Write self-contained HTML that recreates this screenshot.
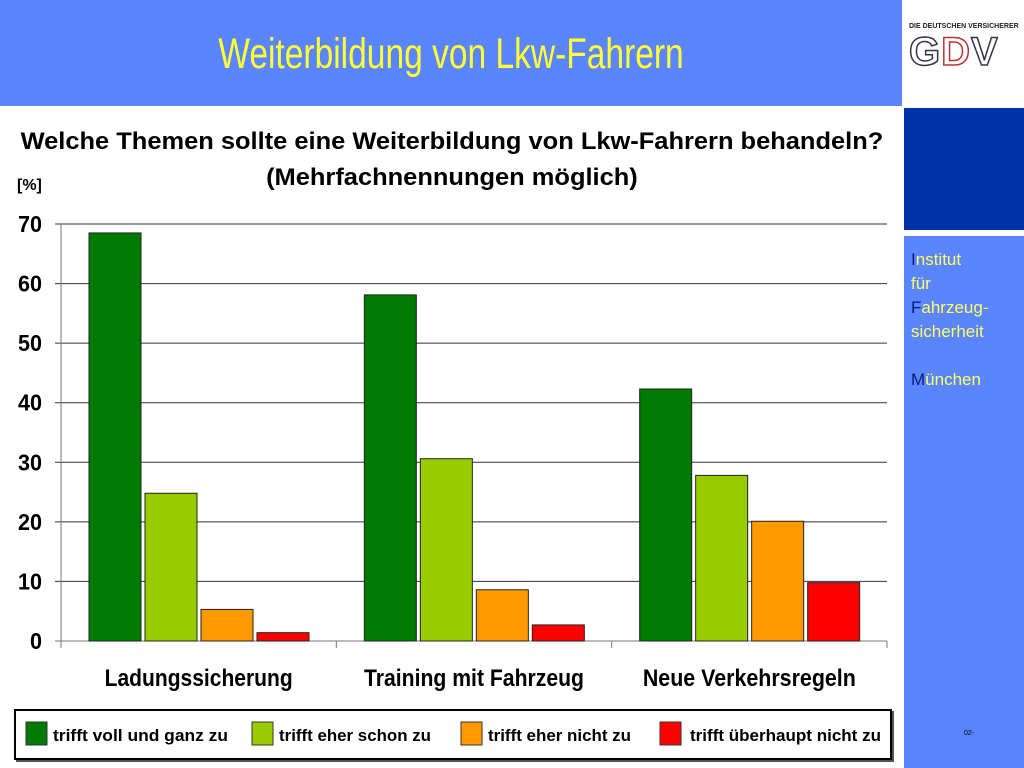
<!DOCTYPE html>
<html><head><meta charset="utf-8"><style>
body{margin:0;width:1024px;height:768px;position:relative;background:#fff;overflow:hidden;font-family:"Liberation Sans",sans-serif}
.abs{position:absolute}
</style></head><body>
<div class="abs" style="left:0;top:0;width:902px;height:106px;background:#5b85fc"></div>
<div class="abs" style="left:0;top:30px;width:902px;text-align:center;color:#ffff33;font-size:43px;transform:scaleX(0.78);transform-origin:451px 0">Weiterbildung von Lkw-Fahrern</div>
<div class="abs" style="left:904px;top:0;width:120px;height:106px;background:#fff">
<div style="position:absolute;left:5px;top:23px;font-size:7px;font-weight:bold;color:#222;white-space:nowrap">DIE DEUTSCHEN VERSICHERER</div>
<div style="position:absolute;left:5px;top:30px;font-size:40px;font-weight:bold;letter-spacing:1px;color:#fff;-webkit-text-stroke:1.5px #334"><span>G</span><span style="-webkit-text-stroke:1.5px #b33">D</span><span>V</span></div>
</div>
<div class="abs" style="left:904px;top:108px;width:120px;height:122px;background:#0033a8"></div>
<div class="abs" style="left:904px;top:236px;width:120px;height:532px;background:#5b85fc"></div>
<div class="abs" style="left:911px;top:248px;font-size:17px;line-height:24px;color:#ffff66"><span style="color:#001a80">I</span>nstitut<br>für<br><span style="color:#001a80">F</span>ahrzeug-<br>sicherheit<br><br><span style="color:#001a80">M</span>ünchen</div>
<div class="abs" style="left:964px;top:730px;font-size:7px;color:#000">02-</div>
<div class="abs" style="left:0;top:124px;width:904px;text-align:center;font-weight:bold;font-size:24px;line-height:36px;color:#000;transform:scaleX(1.06);transform-origin:453px 0">Welche Themen sollte eine Weiterbildung von Lkw-Fahrern behandeln?<br>(Mehrfachnennungen möglich)</div>
<div class="abs" style="left:17px;top:177px;font-weight:bold;font-size:16px">[%]</div>
<svg class="abs" style="left:0;top:0" width="904" height="768" id="chart"></svg>
<div class="abs" style="left:14px;top:709px;width:874px;height:47px;border:2px solid #000;box-shadow:2px 2px 0 #555"></div>
<script>
const categories=["Ladungssicherung","Training mit Fahrzeug","Neue Verkehrsregeln"];
const seriesNames=["trifft  voll und ganz zu","trifft eher schon zu","trifft eher nicht zu","trifft überhaupt nicht zu"];
const s1=[68.5,58.1,42.3];
const s2=[24.8,30.6,27.8];
const s3=[5.3,8.6,20.1];
const s4=[1.4,2.7,9.8];
const yTicks=[0,10,20,30,40,50,60,70];
const colors=["#007a00","#99cc00","#ff9900","#ff0000"];
const series=[s1,s2,s3,s4];
const NS="http://www.w3.org/2000/svg";
const svg=document.getElementById('chart');
const x0=61,x1=887,y0=641,yTop=224;
const y=v=>y0-(v/70)*(y0-yTop);
const cw=(x1-x0)/categories.length;
const catW=[188,220,213];
const legW=[175,152,143,191];
function el(t,a){const e=document.createElementNS(NS,t);for(const k in a)e.setAttribute(k,a[k]);svg.appendChild(e);return e;}
yTicks.forEach(t=>{
 const l=el('line',{x1:x0-6,x2:x1,y1:y(t),y2:y(t),stroke:t===0?'#777':'#333','stroke-width':1});
 
 
 const tx=el('text',{x:42,y:y(t)+8,'text-anchor':'end','font-size':23,'font-weight':'bold'});
 tx.textContent=t;
 tx.setAttribute('textLength',String(t).length*12);
 tx.setAttribute('lengthAdjust','spacingAndGlyphs');
 
 
});
const ax=el('line',{x1:x0,x2:x0,y1:yTop,y2:y0+6,stroke:'#777'});


for(let i=0;i<=categories.length;i++){
 const tk=el('line',{x1:x0+i*cw,x2:x0+i*cw,y1:y0,y2:y0+7,stroke:'#777'});
 
 
}
categories.forEach((c,i)=>{
 series.forEach((s,j)=>{
  const bx=x0+i*cw+28+j*56;
  const r=el('rect',{x:bx,y:y(s[i]),width:52,height:y0-y(s[i]),fill:colors[j],stroke:'#222','stroke-width':1});
  
  
 });
 const t=el('text',{x:x0+i*cw+cw/2,y:686,'text-anchor':'middle','font-size':24,'font-weight':'bold',textLength:catW[i],lengthAdjust:'spacingAndGlyphs'});
 t.textContent=c;
 
 
});
const lx=[26,252,461,660];
seriesNames.forEach((n,j)=>{
 const r=el('rect',{x:lx[j],y:722,width:21,height:23,fill:colors[j],stroke:'#333'});
 
 
 const t=el('text',{x:lx[j]+27+(j==3?3:0),y:741,'font-size':17,'font-weight':'bold',textLength:legW[j],lengthAdjust:'spacingAndGlyphs'});
 t.setAttribute('xml:space','preserve');
 t.textContent=n;
 
 
});
</script>
</body></html>
